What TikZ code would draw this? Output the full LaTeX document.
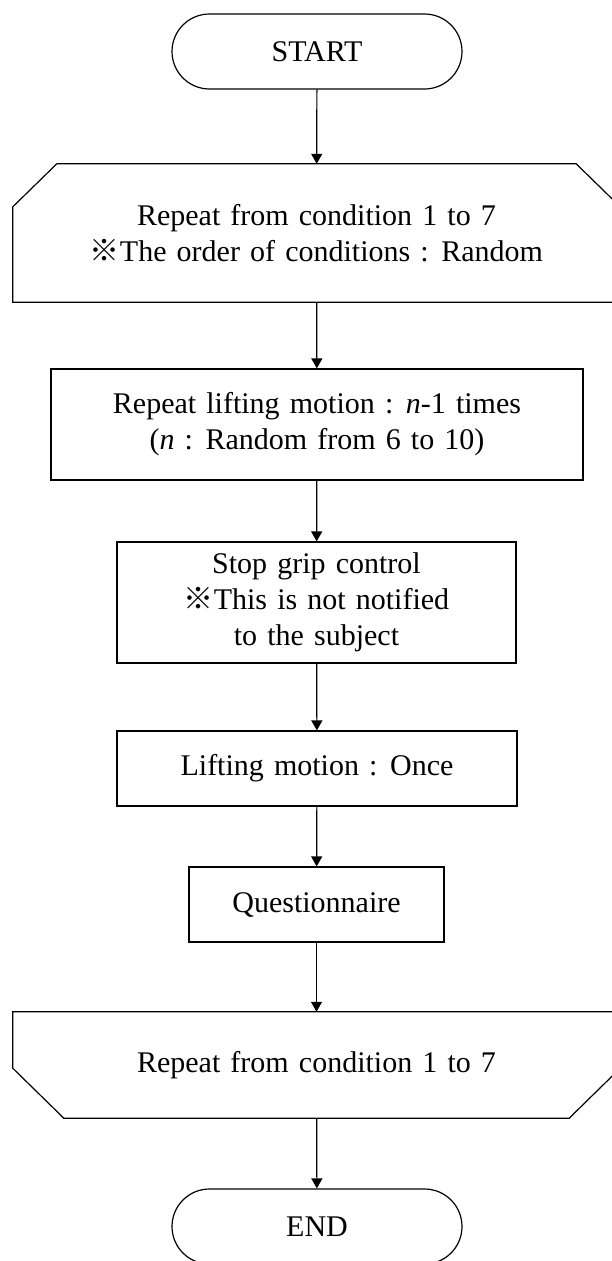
\documentclass[tikz,border=0pt]{standalone}
\usepackage{fontspec}
\setmainfont[WordSpace=1.35]{Liberation Serif}
\newfontfamily\cjk{Noto Sans CJK JP}
\usetikzlibrary{arrows.meta,shapes.misc}

\newcommand{\refmark}{{\cjk ※}}

\tikzset{
  every node/.style={font=\fontsize{30}{36}\selectfont, align=center, inner sep=0pt},
  terminal/.style={rounded rectangle, draw, line width=1.2pt,
    minimum width=290pt, minimum height=75pt},
  process/.style={rectangle, draw, line width=1.2pt},
  loopbox/.style={rectangle, draw=none, minimum width=607pt},
  flow/.style={line width=1.2pt, -{Triangle[length=10pt,width=11pt]}},
  outline/.style={line width=1.2pt, line join=miter}
}

\begin{document}
\begin{tikzpicture}[x=1pt, y=-1pt]
  \useasboundingbox (0,0) rectangle (612,1261);
  \clip (0,0) rectangle (612,1261);

  % terminals
  \node[terminal] (start) at (317,51.5) {START};
  \node[terminal] (stop) at (317,1226.5) {END};

  % loop start (corners cut at the top)
  \node[loopbox, minimum height=138pt] (loopA) at (316.5,233)
    {Repeat from condition 1 to 7\\ \refmark The order of conditions : Random};
  \draw[outline] (loopA.south west) -- ([yshift=-43pt]loopA.north west)
    -- ([xshift=44pt]loopA.north west) -- ([xshift=-44pt]loopA.north east)
    -- ([yshift=-43pt]loopA.north east) -- (loopA.south east) -- cycle;

  % steps inside the loop
  \node[process, minimum width=532pt, minimum height=111pt] (rep) at (317,424.5)
    {Repeat lifting motion : \textit{n}-1 times\\ (\textit{n} : Random from 6 to 10)};
  \node[process, minimum width=399pt, minimum height=121pt] (grip) at (316.5,602.5)
    {Stop grip control\\ \refmark This is not notified\\ to the subject};
  \node[process, minimum width=400pt, minimum height=75pt] (lift) at (317,768.5)
    {Lifting motion : Once};
  \node[process, minimum width=255pt, minimum height=75pt] (quest) at (316.5,904.5)
    {Questionnaire};

  % loop end (corners cut at the bottom)
  \node[loopbox, minimum height=106pt] (loopB) at (316.5,1065)
    {Repeat from condition 1 to 7};
  \draw[outline] (loopB.north west) -- ([yshift=50pt]loopB.south west)
    -- ([xshift=51pt]loopB.south west) -- ([xshift=-51pt]loopB.south east)
    -- ([yshift=50pt]loopB.south east) -- (loopB.north east) -- cycle;

  % connectors
  \draw[flow] (start) -- (loopA);
  \draw[flow] (loopA) -- (rep);
  \draw[flow] (rep) -- (grip);
  \draw[flow] (grip) -- (lift);
  \draw[flow] (lift) -- (quest);
  \draw[flow] (quest) -- (loopB);
  \draw[flow] (loopB) -- (stop);
\end{tikzpicture}
\end{document}
